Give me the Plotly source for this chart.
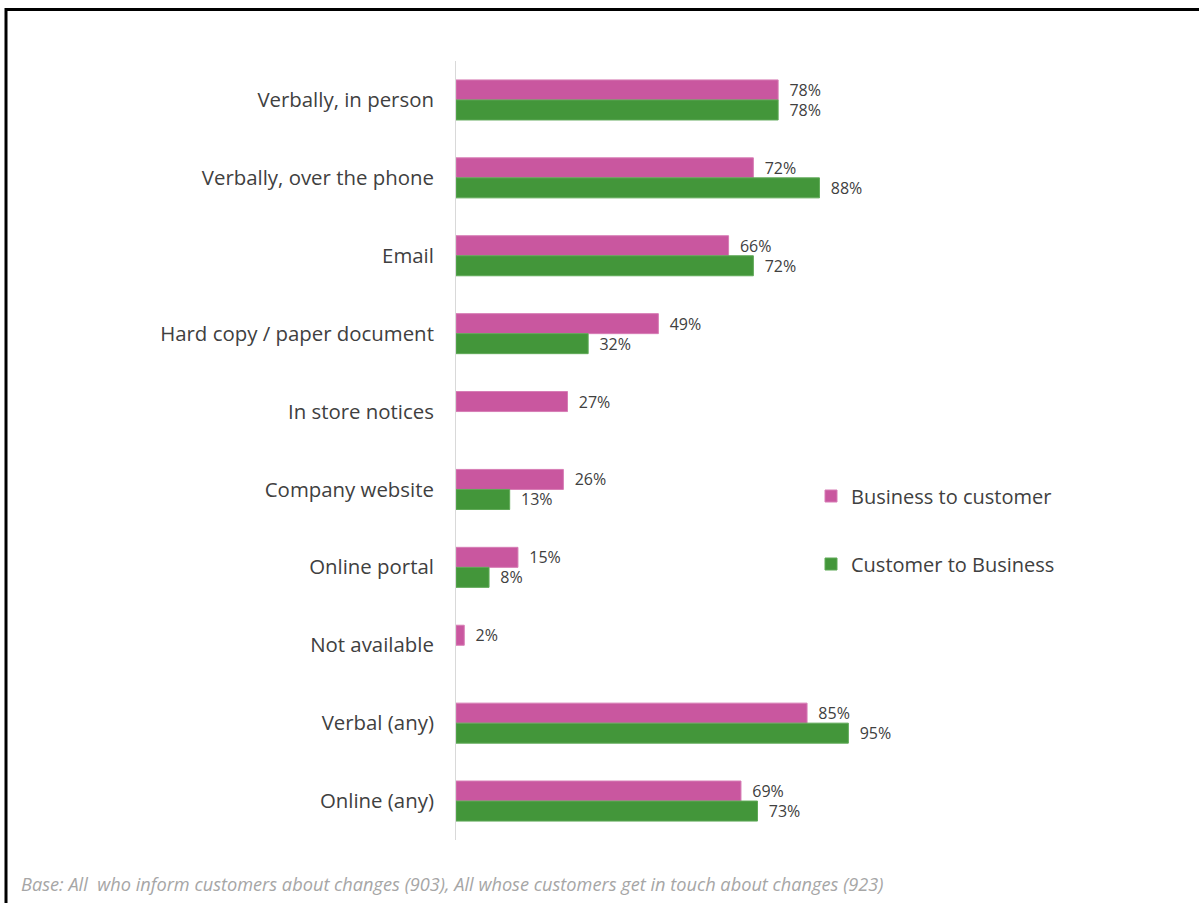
import plotly.graph_objects as go

# Communication channels (top to bottom)
channels = [
    "Verbally, in person",
    "Verbally, over the phone",
    "Email",
    "Hard copy / paper document",
    "In store notices",
    "Company website",
    "Online portal",
    "Not available",
    "Verbal (any)",
    "Online (any)",
]
business_to_customer = [78, 72, 66, 49, 27, 26, 15, 2, 85, 69]
customer_to_business = [78, 88, 72, 32, None, 13, 8, None, 95, 73]

series_names = ["Business to customer", "Customer to Business"]
PINK = "#C9579F"
GREEN = "#43963A"
TEXT = "#404040"
FONT = "Open Sans"

W, H = 1199, 903
M_L, M_R, M_T, M_B = 456, 330, 61, 63
PLOT_W = W - M_L - M_R
PLOT_H = H - M_T - M_B


def px_x(x):
    return (x - M_L) / PLOT_W


def px_y(y):
    return (H - M_B - y) / PLOT_H


def labels(vals):
    return ["\u00a0\u00a0%d%%" % v if v is not None else "" for v in vals]


fig = go.Figure()
fig.add_trace(go.Bar(
    y=channels, x=business_to_customer, orientation="h",
    name=series_names[0], marker=dict(color=PINK, line=dict(color="#D77DB5", width=1)),
    text=labels(business_to_customer), textposition="outside", constraintext="none",
    textfont=dict(family=FONT, size=16, color=TEXT), cliponaxis=False,
    legend="legend", showlegend=True,
))
fig.add_trace(go.Bar(
    y=channels, x=customer_to_business, orientation="h",
    name=series_names[1], marker=dict(color=GREEN, line=dict(color="#5FA957", width=1)),
    text=labels(customer_to_business), textposition="outside", constraintext="none",
    textfont=dict(family=FONT, size=16, color=TEXT), cliponaxis=False,
    legend="legend2", showlegend=True,
))

fig.update_layout(
    width=W, height=H,
    margin=dict(l=M_L, r=M_R, t=M_T, b=M_B, autoexpand=False),
    paper_bgcolor="white", plot_bgcolor="white",
    showlegend=True,
    barmode="group", bargap=0.486, bargroupgap=0,
    font=dict(family=FONT, color=TEXT),
    xaxis=dict(range=[0, 100], showgrid=False, zeroline=False,
               showticklabels=False, ticks="", fixedrange=True),
    yaxis=dict(autorange="reversed", showgrid=False, zeroline=False,
               showline=True, linecolor="#D9D9D9", linewidth=1,
               ticks="", ticklabelstandoff=17,
               tickfont=dict(family=FONT, size=20.4, color=TEXT)),
    legend=dict(x=px_x(811), y=px_y(496), xanchor="left", yanchor="middle",
                font=dict(family=FONT, size=20, color=TEXT),
                bgcolor="rgba(0,0,0,0)", itemwidth=30),
    legend2=dict(x=px_x(811), y=px_y(564), xanchor="left", yanchor="middle",
                 font=dict(family=FONT, size=20, color=TEXT),
                 bgcolor="rgba(0,0,0,0)", itemwidth=30),
    annotations=[dict(
        text="Base: All  who inform customers about changes (903), All whose customers get in touch about changes (923)",
        xref="paper", yref="paper", x=px_x(19), y=px_y(884),
        xanchor="left", yanchor="middle", showarrow=False,
        font=dict(family=FONT, size=18.2, color="#A6A6A6", style="italic"),
    )],
    shapes=[
        dict(type="line", xref="paper", yref="paper",
             x0=px_x(6), x1=px_x(6), y0=px_y(8), y1=px_y(903),
             line=dict(color="black", width=3)),
        dict(type="line", xref="paper", yref="paper",
             x0=px_x(5), x1=px_x(1199), y0=px_y(9.5), y1=px_y(9.5),
             line=dict(color="black", width=3)),
    ],
)

fig.write_html("out.html")
